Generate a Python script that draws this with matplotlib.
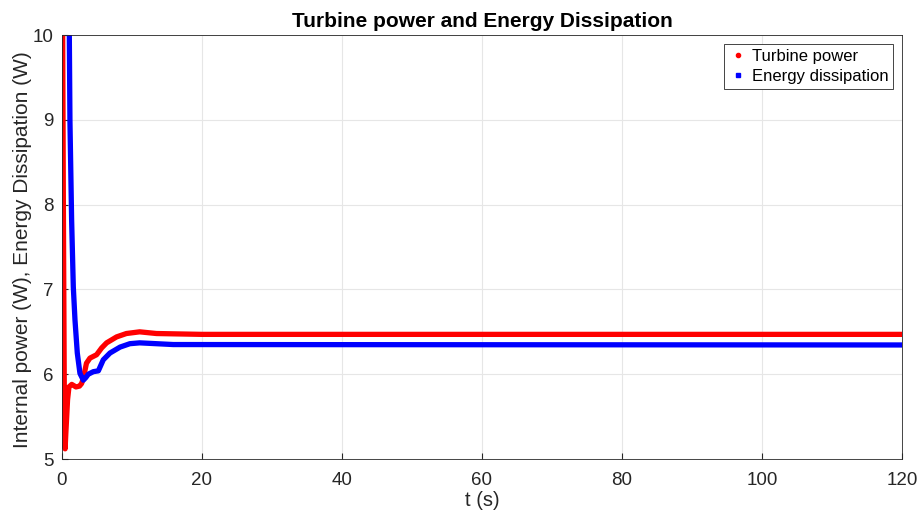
import matplotlib
matplotlib.use("Agg")
import matplotlib.pyplot as plt
from matplotlib.lines import Line2D

plt.rcParams['font.family'] = ['Liberation Sans', 'DejaVu Sans']

# Turbine power (W) over time (s)
t_turbine = [0.0, 0.2, 0.35, 0.45, 0.55, 0.8, 1.0, 1.4, 2.0, 2.5, 2.8, 3.05,
             3.5, 4.0, 4.95, 5.67, 6.38, 7.8, 9.2, 11.1, 13.5, 20.0, 120.0]
p_turbine = [12.0, 8.0, 5.5, 5.12, 5.3, 5.7, 5.85, 5.88, 5.85, 5.86, 5.89, 5.95,
             6.13, 6.19, 6.23, 6.31, 6.37, 6.44, 6.48, 6.5, 6.48, 6.47, 6.47]

# Energy dissipation (W) over time (s)
t_dissip = [0.9, 1.05, 1.14, 1.38, 1.62, 1.86, 2.19, 2.57, 3.05, 3.4, 3.76,
            4.48, 5.2, 5.9, 6.86, 8.3, 9.7, 11.1, 15.9, 120.0]
p_dissip = [11.0, 10.0, 8.99, 7.82, 7.03, 6.64, 6.25, 6.01, 5.93, 5.96, 6.0,
            6.03, 6.04, 6.17, 6.25, 6.32, 6.36, 6.37, 6.35, 6.345]

xticks = [0, 20, 40, 60, 80, 100, 120]
yticks = [5, 6, 7, 8, 9, 10]

fig = plt.figure(figsize=(9.18, 5.12), dpi=100)
ax = fig.add_axes([0.0675, 0.1035, 0.915, 0.828])

ax.plot(t_turbine, p_turbine, color='#ff0000', lw=3.8,
        solid_joinstyle='round', solid_capstyle='round')
ax.plot(t_dissip, p_dissip, color='#0000ff', lw=3.8,
        solid_joinstyle='round', solid_capstyle='round')

ax.set_xlim(0, 120)
ax.set_ylim(5, 10)
ax.set_xticks(xticks)
ax.set_yticks(yticks)
ax.grid(True, color='#e6e6e6', lw=0.8)
ax.set_axisbelow(True)
ax.tick_params(direction='in', length=4, color='#262626', labelsize=13.5,
               labelcolor='#262626')
ax.tick_params(axis='x', pad=9)
ax.tick_params(axis='y', pad=6)
for s in ax.spines.values():
    s.set_color('#262626')
    s.set_linewidth(0.6)

ax.set_title('Turbine power and Energy Dissipation', fontsize=15,
             fontweight='bold', pad=6)
ax.set_xlabel('t (s)', fontsize=14.5, color='#262626', labelpad=2)
ax.set_ylabel('Internal power (W), Energy Dissipation (W)', fontsize=15,
              color='#262626', labelpad=0)
ax.yaxis.set_label_coords(-0.0357, 0.493)

handles = [Line2D([], [], color='#ff0000', marker='.', ls='none', markersize=6),
           Line2D([], [], color='#0000ff', marker='s', ls='none', markersize=2.5)]
leg = ax.legend(handles, ['Turbine power', 'Energy dissipation'],
                loc='upper right', fontsize=12, fancybox=False,
                edgecolor='#262626', framealpha=1, borderpad=0.27,
                handletextpad=0.2, handlelength=1.2, borderaxespad=0,
                bbox_to_anchor=(0.9893, 0.9788), labelspacing=0.33)
leg.get_frame().set_linewidth(0.6)

fig.savefig('out.png', dpi=100)
